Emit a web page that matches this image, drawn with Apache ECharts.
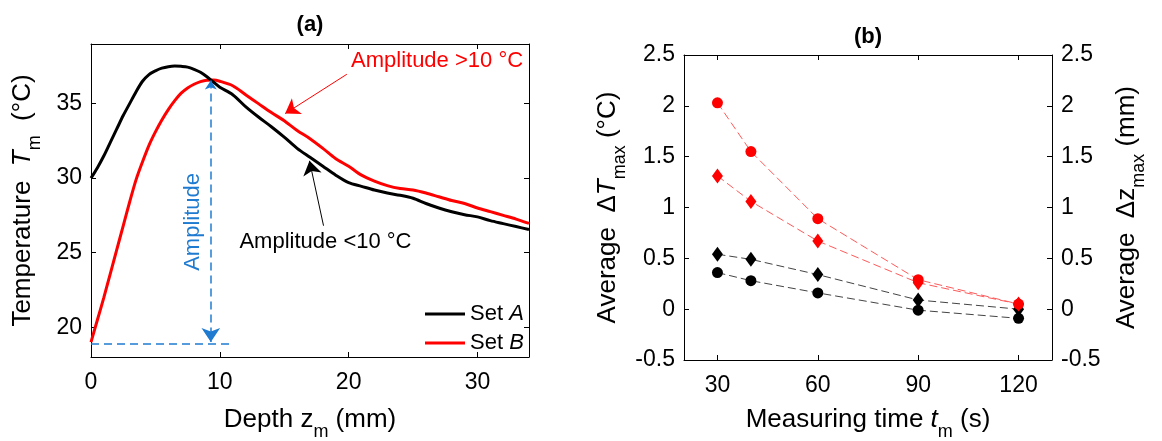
<!DOCTYPE html>
<html>
<head>
<meta charset="utf-8">
<script src="https://cdn.jsdelivr.net/npm/echarts@6/dist/echarts.min.js"></script>
<style>
html,body{margin:0;padding:0;background:#fff;}
#c{width:1162px;height:441px;}
</style>
</head>
<body>
<div id="c"></div>
<script>
// ---------- Panel (a) data ----------
const depth = [0,0.5,1,1.5,2,2.5,3,3.5,4,4.5,5,5.5,6,6.5,7,7.5,8,8.5,9,9.5,10,11,12,13,14,15,16,17,18,19,20,21,22,23,24,25,26,27,28,29,30,31,32,33,34];
const tempSetA = [30.0,30.7,31.5,32.4,33.3,34.2,35.0,35.8,36.5,36.95,37.2,37.38,37.48,37.52,37.5,37.45,37.3,37.1,36.8,36.45,36.1,35.6,34.8,34.1,33.45,32.75,32.0,31.4,30.8,30.2,29.7,29.45,29.2,29.0,28.85,28.65,28.3,28.0,27.75,27.55,27.4,27.15,26.95,26.75,26.55];
const tempSetB = [19.0,20.5,22.0,23.6,25.2,26.8,28.4,29.9,31.1,32.2,33.1,33.9,34.6,35.2,35.7,36.05,36.3,36.48,36.57,36.58,36.5,36.2,35.6,35.0,34.4,33.85,33.2,32.65,32.0,31.3,30.8,30.2,29.8,29.5,29.3,29.2,29.0,28.75,28.5,28.3,28.0,27.75,27.5,27.25,26.96];
const depthTicks = [0,10,20,30];
const tempTicks = [20,25,30,35];

// annotation anchors (data coordinates of panel a)
const baselineSeg = [[0,18.9],[11,18.9]];
const amplitudeArrow = [[9.3,36.55],[9.3,19.0]];
const arrowHigh = [[19.86,36.97],[15.07,34.33]];
const arrowLow = [[18.05,26.81],[16.96,31.16]];
const textHigh = [26.9,37.81];
const textLow = [18.24,25.69];
const textAmp = [7.96,27.03];

// ---------- Panel (b) data ----------
const measTime = [30,40,60,90,120];
const timeTicks = [30,60,90,120];
const redCircle = [2.03,1.55,0.89,0.29,0.05];
const redDiamond = [1.31,1.06,0.67,0.26,0.05];
const blackDiamond = [0.54,0.49,0.34,0.09,0.0];
const blackCircle = [0.36,0.28,0.16,-0.01,-0.09];

const FF = 'Liberation Sans, Arial, sans-serif';
const BLUE = '#1f7bd0';
const zip = (xs, ys) => xs.map((x,i)=>[x, ys[i]]);

function richName(fs){
  return {
    fontSize: fs, fontFamily: FF, color:'#000',
    rich: {
      n: {fontSize: fs, fontFamily: FF, color:'#000', lineHeight: 30},
      i: {fontSize: fs, fontFamily: FF, color:'#000', fontStyle:'italic', lineHeight: 30},
      s: {fontSize: 18, fontFamily: FF, color:'#000', lineHeight: 42, verticalAlign:'bottom'}
    }
  };
}
const tickFont = {fontSize: 23, fontFamily: FF, color:'#000'};
const lineBlack = {show:true, onZero:false, lineStyle:{color:'#000', width:1}};

function xAx(grid, min, max, ticks, pos, labels, name, gap){
  return {
    type:'value', gridIndex:grid, min:min, max:max, position:pos,
    axisLine: lineBlack,
    axisTick: {show:true, inside:true, length:5, customValues:ticks, lineStyle:{color:'#000'}},
    axisLabel: labels ? Object.assign({show:true, margin:14, customValues:ticks}, tickFont) : {show:false},
    splitLine:{show:false},
    name: name || '', nameLocation:'middle', nameGap: gap || 0,
    nameTextStyle: richName(26)
  };
}
function yAx(grid, min, max, ticks, interval, pos, labels, name, gap){
  const a = {
    type:'value', gridIndex:grid, min:min, max:max, position:pos,
    axisLine: lineBlack,
    axisTick: {show:true, inside:true, length:5, lineStyle:{color:'#000'}},
    axisLabel: labels ? Object.assign({show:true, margin:9}, tickFont) : {show:false},
    splitLine:{show:false},
    name: name || '', nameLocation:'middle', nameGap: gap || 0, nameRotate: 90,
    nameTextStyle: richName(26)
  };
  if (ticks) { a.axisTick.customValues = ticks; if (labels) a.axisLabel.customValues = ticks; }
  if (interval) a.interval = interval;
  return a;
}
function textSeries(pt, txt, color, rot){
  return {type:'scatter', xAxisIndex:0, yAxisIndex:0, symbolSize:1, itemStyle:{color:'rgba(0,0,0,0)'}, silent:true, z:6,
    data:[pt], label:{show:true, position:[0,0], align:'center', verticalAlign:'middle', rotate: rot || 0,
      formatter:txt, color:color, fontSize:22, fontFamily:FF, textBorderWidth:0, opacity:1}};
}

const chart = echarts.init(document.getElementById('c'), null, {renderer:'canvas'});
const option = {
  animation:false,
  backgroundColor:'#fff',
  grid:[
    {left:91, top:44, width:438, height:313, outerBoundsMode:'none', containLabel:false},
    {left:684, top:55, width:368, height:305, outerBoundsMode:'none', containLabel:false}
  ],
  xAxis:[
    xAx(0, 0, 34, depthTicks, 'bottom', true, '{n|Depth z}{s|m}{n| (mm)}', 42),
    xAx(0, 0, 34, depthTicks, 'top', false),
    xAx(1, 20, 130, timeTicks, 'bottom', true, '{n|Measuring time }{i|t}{s|m}{n| (s)}', 39),
    xAx(1, 20, 130, timeTicks, 'top', false)
  ],
  yAxis:[
    yAx(0, 18, 39, tempTicks, null, 'left', true, '{n|Temperature  }{i|T}{s|m}{n|  (°C)}', 47),
    yAx(0, 18, 39, tempTicks, null, 'right', false),
    yAx(1, -0.5, 2.5, null, 0.5, 'left', true, '{n|Average  Δ}{i|T}{s|max}{n| (°C)}', 55),
    yAx(1, -0.5, 2.5, null, 0.5, 'right', true, '{n|Average  Δ}{n|z}{s|max}{n| (mm)}', 54)
  ],
  legend:{
    data:['Set A','Set B'], orient:'vertical', left:420, top:298,
    icon:'rect', itemWidth:40, itemHeight:3, itemGap:7,
    formatter: n => 'Set {i|' + n.slice(4) + '}',
    textStyle:{fontSize:22, fontFamily:FF, color:'#000',
      rich:{i:{fontSize:22, fontFamily:FF, fontStyle:'italic', color:'#000'}}}
  },
  graphic:[
    {type:'text', x:310, y:25, style:{text:'(a)', font:'bold 22px Liberation Sans', fill:'#000', align:'center', verticalAlign:'middle'}},
    {type:'text', x:868, y:37, style:{text:'(b)', font:'bold 22px Liberation Sans', fill:'#000', align:'center', verticalAlign:'middle'}}
  ],
  series:[
    {name:'Set B', type:'line', xAxisIndex:0, yAxisIndex:0, data:zip(depth,tempSetB), showSymbol:false, smooth:0.3,
      lineStyle:{color:'#ff0000', width:3}, itemStyle:{color:'#ff0000'}, z:3},
    {name:'Set A', type:'line', xAxisIndex:0, yAxisIndex:0, data:zip(depth,tempSetA), showSymbol:false, smooth:0.3,
      lineStyle:{color:'#000', width:3}, itemStyle:{color:'#000'}, z:4},
    {type:'lines', coordinateSystem:'cartesian2d', xAxisIndex:0, yAxisIndex:0, symbol:['none','none'], silent:true,
      lineStyle:{color:BLUE, width:1.5, type:[8,5], opacity:1}, data:[{coords:baselineSeg}], z:5},
    {type:'lines', coordinateSystem:'cartesian2d', xAxisIndex:0, yAxisIndex:0, symbol:['arrow','arrow'], symbolSize:[9,14], silent:true,
      lineStyle:{color:BLUE, width:1.5, type:[8,5], opacity:1}, data:[{coords:amplitudeArrow}], z:5},
    {type:'lines', coordinateSystem:'cartesian2d', xAxisIndex:0, yAxisIndex:0, symbol:['none','arrow'], symbolSize:[9,14], silent:true,
      lineStyle:{color:'#ff0000', width:1, opacity:1}, data:[{coords:arrowHigh}], z:5},
    {type:'lines', coordinateSystem:'cartesian2d', xAxisIndex:0, yAxisIndex:0, symbol:['none','arrow'], symbolSize:[9,14], silent:true,
      lineStyle:{color:'#000', width:1, opacity:1}, data:[{coords:arrowLow}], z:5},
    textSeries(textHigh, 'Amplitude >10 °C', '#ff0000'),
    textSeries(textLow, 'Amplitude <10 °C', '#000000'),
    textSeries(textAmp, 'Amplitude', BLUE, 90),

    {name:'bc', type:'line', xAxisIndex:2, yAxisIndex:2, data:zip(measTime,blackCircle), symbol:'circle', symbolSize:11,
      itemStyle:{color:'#000'}, lineStyle:{color:'#444', width:1, type:[8,4]}, z:3},
    {name:'bd', type:'line', xAxisIndex:2, yAxisIndex:3, data:zip(measTime,blackDiamond), symbol:'diamond', symbolSize:[11,15],
      itemStyle:{color:'#000'}, lineStyle:{color:'#444', width:1, type:[8,4]}, z:3},
    {name:'rd', type:'line', xAxisIndex:2, yAxisIndex:3, data:zip(measTime,redDiamond), symbol:'diamond', symbolSize:[11,15],
      itemStyle:{color:'#ff0000'}, lineStyle:{color:'#ff5a5a', width:1, type:[8,4]}, z:4},
    {name:'rc', type:'line', xAxisIndex:2, yAxisIndex:2, data:zip(measTime,redCircle), symbol:'circle', symbolSize:11,
      itemStyle:{color:'#ff0000'}, lineStyle:{color:'#ff5a5a', width:1, type:[8,4]}, z:5}
  ]
};
chart.setOption(option);
</script>
</body>
</html>
